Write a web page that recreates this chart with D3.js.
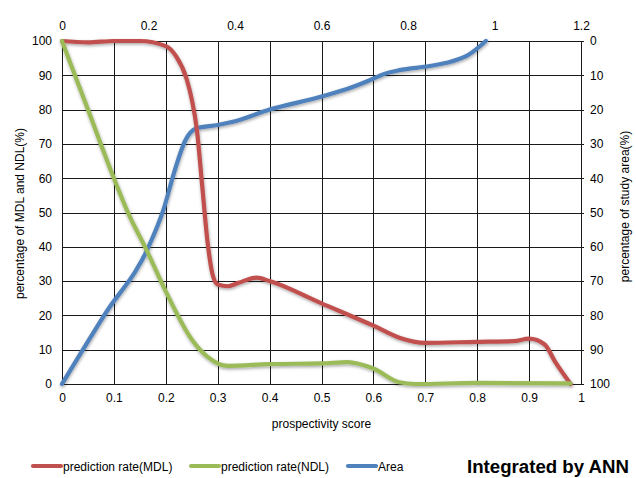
<!DOCTYPE html>
<html>
<head>
<meta charset="utf-8">
<script src="https://cdn.jsdelivr.net/npm/d3@7"></script>
<style>
  html, body { margin: 0; padding: 0; background: #fff; }
  svg text { font-family: "Liberation Sans Narrow", "Arial Narrow", "Liberation Sans", sans-serif; fill: #000; }
</style>
</head>
<body>
<svg id="chart" width="636" height="478"></svg>
<script>
// Prediction rate of mineral (MDL) and non-mineral (NDL) locations vs prospectivity score
const mdlScore = [0, 0.05, 0.1, 0.15, 0.2, 0.22, 0.24, 0.25, 0.26, 0.27, 0.28, 0.29, 0.3, 0.32, 0.34, 0.375, 0.4, 0.5, 0.6, 0.65, 0.7, 0.8, 0.87, 0.9, 0.93, 0.95, 0.98];
const mdlRate  = [100, 99.6, 100, 100, 98.5, 95.5, 89, 83, 74, 58, 42, 32, 29, 28.5, 29.5, 31, 30, 23.5, 17, 13.5, 12, 12.3, 12.5, 13.2, 11.5, 6.5, 0];

const ndlScore = [0, 0.05, 0.1, 0.13, 0.16, 0.2, 0.25, 0.28, 0.32, 0.4, 0.5, 0.55, 0.6, 0.65, 0.68, 0.8, 0.98];
const ndlRate  = [100, 80, 60, 49, 40, 27, 13, 8, 5.3, 5.8, 6, 6.4, 4.5, 0.5, 0, 0.3, 0.2];

// Study area share, plotted on the top and (reversed) right axes
const areaScore = [0, 0.1, 0.2, 0.235, 0.26, 0.285, 0.31, 0.36, 0.4, 0.48, 0.6, 0.67, 0.71, 0.745, 0.78, 0.85, 0.9, 0.94, 0.98];
const areaPct   = [100, 79.5, 60, 49, 38, 29, 25.5, 24.5, 23.4, 20, 16.2, 13.5, 11.5, 9.6, 8.5, 7.3, 6, 4, 0];

const bottomTicks = [0, 0.1, 0.2, 0.3, 0.4, 0.5, 0.6, 0.7, 0.8, 0.9, 1];
const topTicks = [0, 0.2, 0.4, 0.6, 0.8, 1, 1.2];
const leftTicks = [0, 10, 20, 30, 40, 50, 60, 70, 80, 90, 100];
const rightTicks = [0, 10, 20, 30, 40, 50, 60, 70, 80, 90, 100];

const seriesNames = ["prediction rate(MDL)", "prediction rate(NDL)", "Area"];
const seriesColors = ["#C0504D", "#9BBB59", "#4F81BD"];

const L = 62, R = 581, T = 41, B = 384;

const svg = d3.select("#chart");

const defs = svg.append("defs");
const f = defs.append("filter").attr("id", "shadow").attr("x", "-10%").attr("y", "-10%").attr("width", "120%").attr("height", "120%");
f.append("feDropShadow").attr("dx", 0.5).attr("dy", 1.5).attr("stdDeviation", 1.4)
  .attr("flood-color", "#000").attr("flood-opacity", 0.35);

const x = d3.scaleLinear().domain([0, 1]).range([L, R]);
const xTop = d3.scaleLinear().domain([0, 1.2]).range([L, R]);
const y = d3.scaleLinear().domain([0, 100]).range([B, T]);
const yRight = d3.scaleLinear().domain([0, 100]).range([T, B]);

// grid: vertical lines from the bottom axis, horizontal from the left axis
const grid = svg.append("g").attr("stroke", "#1a1a1a").attr("stroke-width", 1).attr("shape-rendering", "crispEdges");
grid.selectAll("line.v").data(bottomTicks).join("line")
  .attr("x1", d => Math.round(x(d)) + 0.5).attr("x2", d => Math.round(x(d)) + 0.5)
  .attr("y1", T).attr("y2", B);
grid.selectAll("line.h").data(leftTicks).join("line")
  .attr("x1", L).attr("x2", R + 3)
  .attr("y1", d => Math.round(y(d)) + 0.5).attr("y2", d => Math.round(y(d)) + 0.5);

// axes (labels only, lines come from the grid)
const axFont = 12;
const gBottom = svg.append("g").attr("transform", `translate(0,${B})`)
  .call(d3.axisBottom(x).tickValues(bottomTicks).tickSize(0).tickPadding(9).tickFormat(d3.format("~g")));
const gTop = svg.append("g").attr("transform", `translate(0,${T})`)
  .call(d3.axisTop(xTop).tickValues(topTicks).tickSize(0).tickPadding(11).tickFormat(d3.format("~g")));
const gLeft = svg.append("g").attr("transform", `translate(${L},0)`)
  .call(d3.axisLeft(y).tickValues(leftTicks).tickSize(0).tickPadding(10));
const gRight = svg.append("g").attr("transform", `translate(${R},0)`)
  .call(d3.axisRight(yRight).tickValues(rightTicks).tickSize(0).tickPadding(9));
[gBottom, gTop, gLeft, gRight].forEach(g => {
  g.select(".domain").remove();
  g.selectAll("text").attr("font-size", axFont).attr("font-family", null).attr("fill", "#000");
});

// axis titles
svg.append("text").attr("transform", `translate(24,${(T + B) / 2 + 1}) rotate(-90)`)
  .attr("text-anchor", "middle").attr("font-size", 12).text("percentage of MDL and NDL(%)");
svg.append("text").attr("transform", `translate(629,${(T + B) / 2 - 6}) rotate(-90)`)
  .attr("text-anchor", "middle").attr("font-size", 12).text("percentage of study area(%)");
svg.append("text").attr("x", (L + R) / 2).attr("y", 428)
  .attr("text-anchor", "middle").attr("font-size", 12).text("prospectivity score");

// series
const line = d3.line().curve(d3.curveMonotoneX);
const plot = svg.append("g").attr("fill", "none").attr("stroke-width", 4.2)
  .attr("stroke-linecap", "round").attr("stroke-linejoin", "round").attr("filter", "url(#shadow)");

plot.append("path").attr("stroke", seriesColors[2])
  .attr("d", line(areaScore.map((s, i) => [xTop(s), yRight(areaPct[i])])));
plot.append("path").attr("stroke", seriesColors[0])
  .attr("d", line(mdlScore.map((s, i) => [x(s), y(mdlRate[i])])));
plot.append("path").attr("stroke", seriesColors[1])
  .attr("d", line(ndlScore.map((s, i) => [x(s), y(ndlRate[i])])));

// legend
const legendX = [33, 191, 348];
const leg = svg.append("g");
seriesNames.forEach((name, i) => {
  leg.append("line").attr("x1", legendX[i]).attr("x2", legendX[i] + 28)
    .attr("y1", 466).attr("y2", 466)
    .attr("stroke", seriesColors[i]).attr("stroke-width", 4.2).attr("stroke-linecap", "round");
  leg.append("text").attr("x", legendX[i] + 30).attr("y", 470.5)
    .attr("font-size", 12).text(name);
});

svg.append("text").attr("x", 467).attr("y", 473)
  .attr("font-size", 18).attr("font-weight", "bold")
  .attr("textLength", 162).attr("lengthAdjust", "spacingAndGlyphs")
  .text("Integrated by ANN");
</script>
</body>
</html>
